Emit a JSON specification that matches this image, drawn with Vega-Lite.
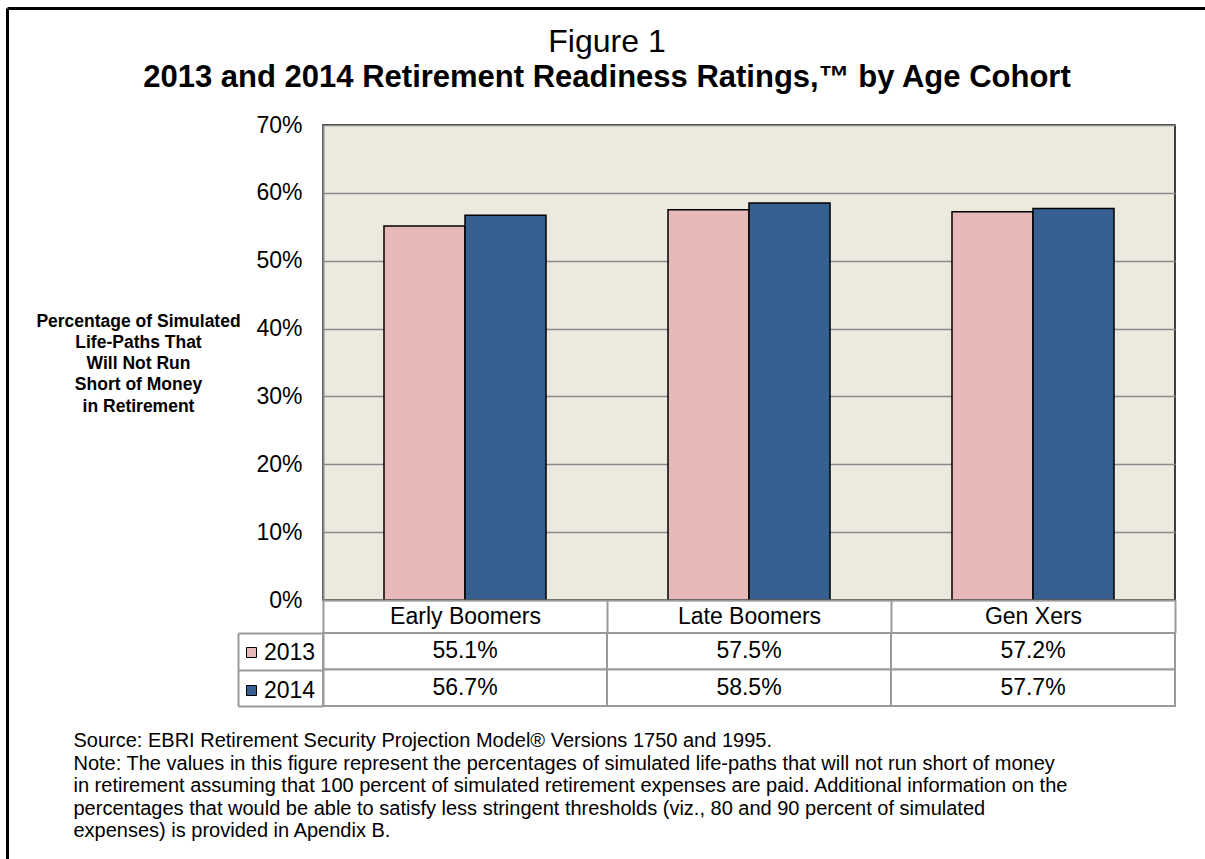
{
  "$schema": "https://vega.github.io/schema/vega-lite/v6.json",
  "width": 852,
  "height": 475,
  "autosize": "none",
  "padding": {"left": 323, "top": 125, "right": 30, "bottom": 259},
  "background": "white",
  "title": {
    "text": "Figure 1",
    "subtitle": "2013 and 2014 Retirement Readiness Ratings,™ by Age Cohort",
    "anchor": "middle",
    "frame": "group",
    "dx": -142,
    "offset": -86,
    "font": "Liberation Sans",
    "fontSize": 32,
    "fontWeight": "normal",
    "color": "black",
    "subtitleFont": "Liberation Sans",
    "subtitleFontSize": 31,
    "subtitleFontWeight": "bold",
    "subtitleColor": "black",
    "subtitlePadding": 4
  },
  "data": {
    "values": [
      {"cohort": "Early Boomers", "year": "2013", "value": 0.551},
      {"cohort": "Early Boomers", "year": "2014", "value": 0.567},
      {"cohort": "Late Boomers", "year": "2013", "value": 0.575},
      {"cohort": "Late Boomers", "year": "2014", "value": 0.585},
      {"cohort": "Gen Xers", "year": "2013", "value": 0.572},
      {"cohort": "Gen Xers", "year": "2014", "value": 0.577}
    ]
  },
  "resolve": {"scale": {"x": "independent", "y": "independent"}},
  "layer": [
    {
      "mark": {"type": "point", "opacity": 0},
      "encoding": {
        "x": {"field": "cohort", "type": "nominal", "sort": null,
          "scale": {"range": [-316, 882]},
          "axis": {"orient": "top", "offset": 117, "domain": true, "domainColor": "black", "domainWidth": 3, "ticks": false, "labels": false, "grid": false, "title": null}},
        "y": {"field": "year", "type": "nominal",
          "scale": {"range": [-117, 740]},
          "axis": {"orient": "left", "offset": 316, "domain": true, "domainColor": "black", "domainWidth": 3, "ticks": false, "labels": false, "grid": false, "title": null}}
      }
    },
    {
      "mark": {"type": "rect", "fill": "white", "stroke": "#9a9a9a", "strokeWidth": 2},
      "encoding": {
        "x": {"field": "cohort", "type": "nominal", "sort": null,
          "scale": {"paddingInner": 0, "paddingOuter": 0}, "axis": null},
        "y": {"field": "year", "type": "nominal",
          "scale": {"range": [508, 581], "paddingInner": 0, "paddingOuter": 0},
          "axis": {"orient": "left", "offset": 0, "domain": true, "domainColor": "#9a9a9a", "domainWidth": 2, "ticks": true, "tickBand": "extent", "tickSize": 85, "tickColor": "#9a9a9a", "tickWidth": 2, "labels": false, "grid": false, "title": null}}
      }
    },
    {
      "mark": {"type": "text", "font": "Liberation Sans", "fontSize": 23, "color": "black", "baseline": "middle"},
      "encoding": {
        "x": {"field": "cohort", "type": "nominal", "sort": null,
          "scale": {"paddingInner": 0, "paddingOuter": 0}, "axis": null},
        "y": {"field": "year", "type": "nominal",
          "scale": {"range": [508, 581], "paddingInner": 0, "paddingOuter": 0},
          "axis": {"orient": "left", "offset": 85, "domain": true, "domainColor": "#9a9a9a", "domainWidth": 2, "ticks": false, "labels": false, "grid": false, "title": null}},
        "text": {"field": "value", "type": "quantitative", "format": ".1%"}
      }
    },
    {
      "mark": {"type": "bar", "stroke": "black", "strokeWidth": 1.5},
      "encoding": {
        "x": {"field": "cohort", "type": "nominal", "sort": null,
          "scale": {"paddingInner": 0, "paddingOuter": 0},
          "axis": {
            "orient": "bottom",
            "domain": true, "domainColor": "#9a9a9a", "domainWidth": 2,
            "ticks": true, "tickBand": "extent", "tickSize": 33, "tickColor": "#9a9a9a", "tickWidth": 2,
            "labelFont": "Liberation Sans", "labelFontSize": 23, "labelColor": "black", "labelAngle": 0,
            "labelBaseline": "middle", "labelPadding": -16.5,
            "grid": false, "zindex": 1,
            "title": [
              "Source: EBRI Retirement Security Projection Model® Versions 1750 and 1995.",
              "Note: The values in this figure represent the percentages of simulated life-paths that will not run short of money",
              "in retirement assuming that 100 percent of simulated retirement expenses are paid. Additional information on the",
              "percentages that would be able to satisfy less stringent thresholds (viz., 80 and 90 percent of simulated",
              "expenses) is provided in Apendix  B."
            ],
            "titleX": -250, "titleY": 146.5, "titleAlign": "left", "titleAnchor": "start", "titleBaseline": "alphabetic",
            "titleFont": "Liberation Sans", "titleFontSize": 20, "titleFontWeight": "normal", "titleColor": "black", "titleLineHeight": 22.6
          }},
        "xOffset": {"field": "year", "type": "nominal", "scale": {"paddingInner": 0, "paddingOuter": 0.753}},
        "y": {"field": "value", "type": "quantitative",
          "scale": {"domain": [0, 0.7], "nice": false, "zero": true},
          "axis": {
            "orient": "left", "values": [0, 0.1, 0.2, 0.3, 0.4, 0.5, 0.6, 0.7], "format": ".0%",
            "domain": true, "domainColor": "#8a8a8a", "domainWidth": 2,
            "ticks": false, "labelPadding": 21,
            "labelFont": "Liberation Sans", "labelFontSize": 23, "labelColor": "black",
            "grid": true, "gridColor": "#8a8a8a", "gridWidth": 1.5, "zindex": 0,
            "title": ["Percentage of Simulated", "Life-Paths That", "Will Not Run", "Short of Money", "in Retirement"],
            "titleAngle": 0, "titleX": -185, "titleY": 201, "titleAlign": "center", "titleBaseline": "alphabetic",
            "titleFont": "Liberation Sans", "titleFontSize": 17.5, "titleFontWeight": "bold", "titleColor": "black", "titleLineHeight": 21.25
          }},
        "color": {"field": "year", "type": "nominal",
          "scale": {"domain": ["2013", "2014"], "range": ["#E6B9B8", "#366092"]},
          "legend": {
            "orient": "none", "legendX": -83, "legendY": 516, "title": null, "padding": 0,
            "symbolType": "square", "symbolSize": 100, "symbolStrokeColor": "black", "symbolStrokeWidth": 1, "symbolOpacity": 1,
            "labelFont": "Liberation Sans", "labelFontSize": 23, "labelColor": "black", "labelOffset": 1, "rowPadding": 14
          }}
      }
    }
  ],
  "config": {
    "view": {"fill": "#ECE9DF", "stroke": "black", "strokeWidth": 1.5},
    "font": "Liberation Sans"
  }
}
